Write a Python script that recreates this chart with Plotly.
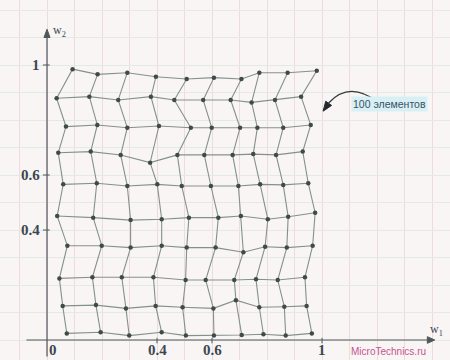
import plotly.graph_objects as go

# Kohonen map: 10 x 10 neurons, weight vectors (w1, w2), one list per row
w1_rows = [
    [0.093, 0.184, 0.292, 0.396, 0.508, 0.607, 0.707, 0.772, 0.875, 0.981],
    [0.035, 0.154, 0.259, 0.378, 0.463, 0.568, 0.668, 0.744, 0.829, 0.924],
    [0.069, 0.183, 0.292, 0.407, 0.523, 0.599, 0.702, 0.765, 0.859, 0.959],
    [0.041, 0.159, 0.268, 0.375, 0.474, 0.572, 0.675, 0.750, 0.833, 0.930],
    [0.059, 0.181, 0.292, 0.401, 0.490, 0.596, 0.696, 0.775, 0.859, 0.950],
    [0.037, 0.168, 0.304, 0.417, 0.516, 0.623, 0.705, 0.803, 0.877, 0.975],
    [0.074, 0.199, 0.304, 0.417, 0.508, 0.613, 0.714, 0.793, 0.872, 0.966],
    [0.045, 0.165, 0.272, 0.387, 0.504, 0.577, 0.681, 0.760, 0.839, 0.938],
    [0.057, 0.178, 0.287, 0.395, 0.493, 0.605, 0.687, 0.772, 0.863, 0.944],
    [0.072, 0.195, 0.299, 0.417, 0.505, 0.607, 0.708, 0.787, 0.868, 0.963],
]
w2_rows = [
    [0.985, 0.966, 0.972, 0.957, 0.949, 0.954, 0.949, 0.972, 0.972, 0.979],
    [0.879, 0.885, 0.873, 0.885, 0.873, 0.873, 0.873, 0.864, 0.873, 0.885],
    [0.776, 0.782, 0.772, 0.778, 0.772, 0.772, 0.772, 0.772, 0.772, 0.782],
    [0.681, 0.685, 0.673, 0.645, 0.673, 0.673, 0.673, 0.676, 0.673, 0.685],
    [0.566, 0.570, 0.560, 0.566, 0.560, 0.560, 0.560, 0.566, 0.564, 0.570],
    [0.451, 0.445, 0.436, 0.439, 0.445, 0.445, 0.451, 0.439, 0.448, 0.463],
    [0.343, 0.343, 0.336, 0.343, 0.336, 0.336, 0.319, 0.339, 0.336, 0.343],
    [0.224, 0.228, 0.228, 0.228, 0.218, 0.218, 0.218, 0.221, 0.218, 0.228],
    [0.124, 0.127, 0.115, 0.124, 0.119, 0.115, 0.145, 0.119, 0.121, 0.124],
    [0.024, 0.028, 0.016, 0.028, 0.016, 0.016, 0.018, 0.021, 0.016, 0.024],
]

xtick_vals = [0, 0.4, 0.6, 1]
xtick_text = ["0", "0.4", "0.6", "1"]
ytick_vals = [0.4, 0.6, 1]
ytick_text = ["0.4", "0.6", "1"]

note_text = "100 элементов"
site_text = "MicroTechnics.ru"

MESH = "#83918d"
NODE = "#404b49"
AXIS = "#4f575b"
LABEL = "#3c4850"
SERIF = "Liberation Serif, DejaVu Serif, serif"
SANS = "Liberation Sans, Arial, sans-serif"

fig = go.Figure()

n = len(w1_rows)
# rows of the mesh
hx, hy = [], []
for r in range(n):
    hx += w1_rows[r] + [None]
    hy += w2_rows[r] + [None]
# columns of the mesh
vx, vy = [], []
for c in range(n):
    vx += [w1_rows[r][c] for r in range(n)] + [None]
    vy += [w2_rows[r][c] for r in range(n)] + [None]

fig.add_trace(go.Scatter(x=vx, y=vy, mode="lines",
                         line=dict(color=MESH, width=1.1), hoverinfo="skip"))
fig.add_trace(go.Scatter(x=hx, y=hy, mode="lines",
                         line=dict(color=MESH, width=1.1), hoverinfo="skip"))
fig.add_trace(go.Scatter(x=[v for row in w1_rows for v in row],
                         y=[v for row in w2_rows for v in row],
                         mode="markers",
                         marker=dict(color=NODE, size=4.5), hoverinfo="skip"))

annotations = []
shapes = []

# coordinate axes with arrowheads
shapes.append(dict(type="line", xref="x", yref="y", x0=-0.075, x1=1.39,
                   y0=0, y1=0, line=dict(color=AXIS, width=1.2)))
shapes.append(dict(type="line", xref="x", yref="y", x0=0, x1=0,
                   y0=-0.06, y1=1.11, line=dict(color=AXIS, width=1.2)))
shapes.append(dict(type="path", xref="x", yref="y",
                   path="M 1.41,0 L 1.383,0.012 L 1.383,-0.012 Z",
                   fillcolor=AXIS, line=dict(color=AXIS, width=1)))
shapes.append(dict(type="path", xref="x", yref="y",
                   path="M 0,1.13 L -0.011,1.10 L 0.011,1.10 Z",
                   fillcolor=AXIS, line=dict(color=AXIS, width=1)))
annotations.append(dict(x=0.015, y=1.125, xref="x", yref="y", showarrow=False,
                        text="w<sub>2</sub>", xanchor="left",
                        font=dict(family=SERIF, size=12, color=LABEL)))
annotations.append(dict(x=1.415, y=0.035, xref="x", yref="y", showarrow=False,
                        text="w<sub>1</sub>", xanchor="center",
                        font=dict(family=SERIF, size=12, color=LABEL)))

for v, t in zip(xtick_vals, xtick_text):
    annotations.append(dict(x=v, y=-0.038, xref="x", yref="y", showarrow=False,
                            text="<b>" + t + "</b>",
                            xshift=6 if v == 0 else 0,
                            font=dict(family=SERIF, size=15, color=LABEL)))
    if v != 0:
        shapes.append(dict(type="line", xref="x", yref="y", x0=v, x1=v,
                           y0=-0.012, y1=0.008, line=dict(color=AXIS, width=1)))
for v, t in zip(ytick_vals, ytick_text):
    annotations.append(dict(x=-0.02, y=v, xref="x", yref="y", showarrow=False,
                            text="<b>" + t + "</b>", xanchor="right",
                            font=dict(family=SERIF, size=15, color=LABEL)))
    shapes.append(dict(type="line", xref="x", yref="y", x0=-0.015, x1=0.01,
                       y0=v, y1=v, line=dict(color=AXIS, width=1)))

# curved pointer to the mesh
shapes.append(dict(type="path", xref="x", yref="y",
                   path="M 1.204,0.865 Q 1.10,0.945 1.024,0.862",
                   line=dict(color="#333b3e", width=1.3)))
shapes.append(dict(type="path", xref="x", yref="y",
                   path="M 1.004,0.832 L 1.0348,0.8531 L 1.0136,0.8681 Z",
                   fillcolor="#222a2d", line=dict(color="#222a2d", width=1)))
annotations.append(dict(x=1.245, y=0.858, xref="x", yref="y", showarrow=False,
                        text=note_text, bgcolor="#d8f0f3", borderpad=1,
                        font=dict(family=SANS, size=10.5, color="#38506a")))
annotations.append(dict(x=1.24, y=-0.04, xref="x", yref="y", showarrow=False,
                        text=site_text,
                        font=dict(family=SANS, size=10, color="#c4548f")))

fig.update_layout(
    width=450, height=360,
    margin=dict(l=0, r=0, t=0, b=0),
    paper_bgcolor="#faf5f5", plot_bgcolor="#faf5f5",
    showlegend=False,
    annotations=annotations, shapes=shapes,
    xaxis=dict(range=[-47 / 275, 403 / 275], showgrid=True, dtick=0.1, tick0=0,
               gridcolor="#ecdcdd", gridwidth=1, zeroline=False,
               showticklabels=False, ticks="", showline=False, fixedrange=True),
    yaxis=dict(range=[-20 / 275, 340 / 275], showgrid=True, dtick=0.1, tick0=0,
               gridcolor="#e2eae3", gridwidth=1, zeroline=False,
               showticklabels=False, ticks="", showline=False, fixedrange=True),
)

fig.write_html("out.html")
